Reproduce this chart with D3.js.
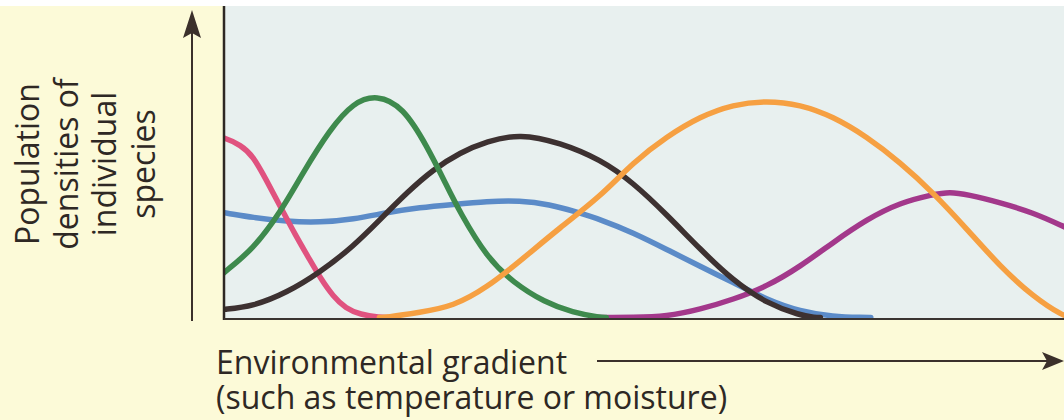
<!DOCTYPE html>
<html>
<head>
<meta charset="utf-8">
<script src="https://cdn.jsdelivr.net/npm/d3@7"></script>
<style>
  html, body { margin: 0; padding: 0; background: #ffffff; }
  svg { display: block; }
  text { font-family: "Open Sans", "Noto Sans", sans-serif; fill: #2e2824; }
</style>
</head>
<body>
<div id="chart"></div>
<script>
// niches along a gradient (x: 0-100 along gradient, y: 0-100 density)

var pinkX   = [-1, 0, 2, 3.5, 5, 6.7, 8.5, 10.2, 11.5, 13, 14.5, 16.2, 18.6, 19.5];
var pinkY   = [60.3, 60, 57.5, 53.7, 46, 37, 27.5, 19.3, 13, 7, 3, 1, 0, 0];

var greenX  = [-1, 0, 3.45, 6.7, 9.4, 12.6, 15.4, 18.2, 21.3, 24.2, 26.5, 28.1, 31.3, 34.4, 38.2, 41.5, 44.8, 45.5];
var greenY  = [12.5, 15, 22.7, 35, 48.3, 62.7, 71.7, 74.3, 70.3, 57, 44, 35, 20, 11.7, 5, 1.7, 0, 0];

var blackX  = [-1, 0, 3.45, 7.5, 11.4, 15.4, 18.6, 21.8, 24.9, 28.1, 31.3, 35.2, 40, 44.8, 48.7, 52.7, 56.7, 60.6, 64.6, 68.6, 70.4, 71];
var blackY  = [2.5, 2.7, 3.7, 8.3, 15, 23.7, 32.7, 41.7, 49.3, 55, 58.7, 61.3, 58.3, 52.7, 45, 34.3, 22.7, 12.3, 4.7, 0.7, 0, 0];

var blueX   = [-1, 0, 3.45, 7.5, 11.4, 15.4, 19.4, 23.3, 27.3, 31.3, 35.2, 38.8, 41.8, 44.8, 48.7, 52.7, 56.7, 60.6, 64.6, 68.6, 72.5, 76.1, 77];
var blueY   = [35.3, 35, 33.3, 32, 31.7, 32.7, 35, 36.7, 37.7, 38.7, 39, 37.7, 35.3, 32.7, 28.3, 22.7, 17, 11.7, 6, 2, 0.3, 0, 0];

var orangeX = [18.5, 19.2, 23.3, 27.3, 31.3, 35.2, 40, 44.8, 48.7, 52.7, 56.7, 60.6, 64.6, 68.6, 72.5, 76.5, 80.5, 84.4, 88.5, 92.4, 96.3, 100, 101];
var orangeY = [0, 0, 1.7, 3.7, 10, 18.7, 30, 40.3, 51.7, 60.3, 67, 71, 72.3, 71, 67, 60.3, 51.7, 41.7, 29.3, 17, 7, 0.3, 0];

var purpleX = [44, 44.8, 48.7, 52.7, 56.7, 60.6, 64.6, 68.6, 72.5, 76.5, 80.5, 84.4, 86.4, 88.5, 92.4, 96.3, 100, 101];
var purpleY = [0, 0, 0, 0.3, 2.7, 6, 10.3, 17, 25, 32.7, 38.3, 41, 41.9, 41, 38.3, 35, 30.3, 29];

// drawing order + colours
var species = [
    {nome: 'blue',   xs: blueX,   ys: blueY,   cor: '#5b8bc8'},
    {nome: 'purple', xs: purpleX, ys: purpleY, cor: '#a3388b'},
    {nome: 'pink',   xs: pinkX,   ys: pinkY,   cor: '#e0527f'},
    {nome: 'black',  xs: blackX,  ys: blackY,  cor: '#3d3131'},
    {nome: 'green',  xs: greenX,  ys: greenY,  cor: '#3e8a4d'},
    {nome: 'orange', xs: orangeX, ys: orangeY, cor: '#f6a042'}
];

var yLabel = ['Population', 'densities of', 'individual', 'species'];
var xLabel = ['Environmental gradient', '(such as temperature or moisture)'];

var width = 1064;
var height = 420;

var plot = {left: 224, right: 1064, top: 6, bottom: 319};

var svg = d3.select('#chart')
    .append('svg')
    .attr('width', width)
    .attr('height', height);

// page background (cream) + the grey-blue panel
svg.append('rect')
    .attr('x', 0).attr('y', 6)
    .attr('width', width).attr('height', height - 6)
    .attr('fill', '#fcfad8');

svg.append('rect')
    .attr('x', plot.left).attr('y', plot.top)
    .attr('width', plot.right - plot.left).attr('height', plot.bottom - plot.top)
    .attr('fill', '#e8f0ef');

var x = d3.scaleLinear().domain([0, 100]).range([plot.left, plot.right]);
var y = d3.scaleLinear().domain([0, 100]).range([317.5, 17.5]);

svg.append('clipPath')
    .attr('id', 'clip')
    .append('rect')
    .attr('x', plot.left + 1).attr('y', plot.top)
    .attr('width', plot.right - plot.left).attr('height', plot.bottom - plot.top - 0.5);

var line = d3.line()
    .x(function(d){ return x(d[0]); })
    .y(function(d){ return y(d[1]); })
    .curve(d3.curveBasis);

svg.append('g')
    .attr('clip-path', 'url(#clip)')
    .selectAll('path')
    .data(species)
    .enter()
    .append('path')
    .attr('d', function(s){ return line(d3.zip(s.xs, s.ys)); })
    .attr('fill', 'none')
    .attr('stroke', function(s){ return s.cor; })
    .attr('stroke-width', 5.5)
    .attr('stroke-linecap', 'round');

// panel border - left and bottom
svg.append('line')
    .attr('x1', plot.left).attr('y1', plot.top)
    .attr('x2', plot.left).attr('y2', plot.bottom + 1)
    .attr('stroke', '#2e2824').attr('stroke-width', 2.5);

svg.append('line')
    .attr('x1', plot.left).attr('y1', plot.bottom)
    .attr('x2', plot.right).attr('y2', plot.bottom)
    .attr('stroke', '#3a3430').attr('stroke-width', 1.8);

// arrows
var ink = '#3b302b';

svg.append('line')
    .attr('x1', 192).attr('y1', 321)
    .attr('x2', 192).attr('y2', 30)
    .attr('stroke', ink).attr('stroke-width', 2);

svg.append('path')
    .attr('d', 'M192,10 L201,38 L192,33 L183,38 Z')
    .attr('fill', ink);

svg.append('line')
    .attr('x1', 597).attr('y1', 361)
    .attr('x2', 1048).attr('y2', 361)
    .attr('stroke', ink).attr('stroke-width', 2);

svg.append('path')
    .attr('d', 'M1064,361 L1042,352 L1047,361 L1042,370 Z')
    .attr('fill', ink);

// axis labels - one text element each, lines as tspans
svg.append('text')
    .attr('class', 'xlabel')
    .attr('x', 216)
    .attr('y', 373.5)
    .attr('font-size', '32px')
    .selectAll('tspan')
    .data(xLabel)
    .enter()
    .append('tspan')
    .attr('x', 216)
    .attr('dy', function(d, i){ return i === 0 ? 0 : 35.5; })
    .text(function(d){ return d; });

svg.append('text')
    .attr('class', 'ylabel')
    .attr('transform', 'translate(0,164) rotate(-90)')
    .attr('y', 39)
    .attr('text-anchor', 'middle')
    .attr('font-size', '32px')
    .selectAll('tspan')
    .data(yLabel)
    .enter()
    .append('tspan')
    .attr('x', 0)
    .attr('dy', function(d, i){ return i === 0 ? 0 : 38.5; })
    .text(function(d){ return d; });
</script>
</body>
</html>
